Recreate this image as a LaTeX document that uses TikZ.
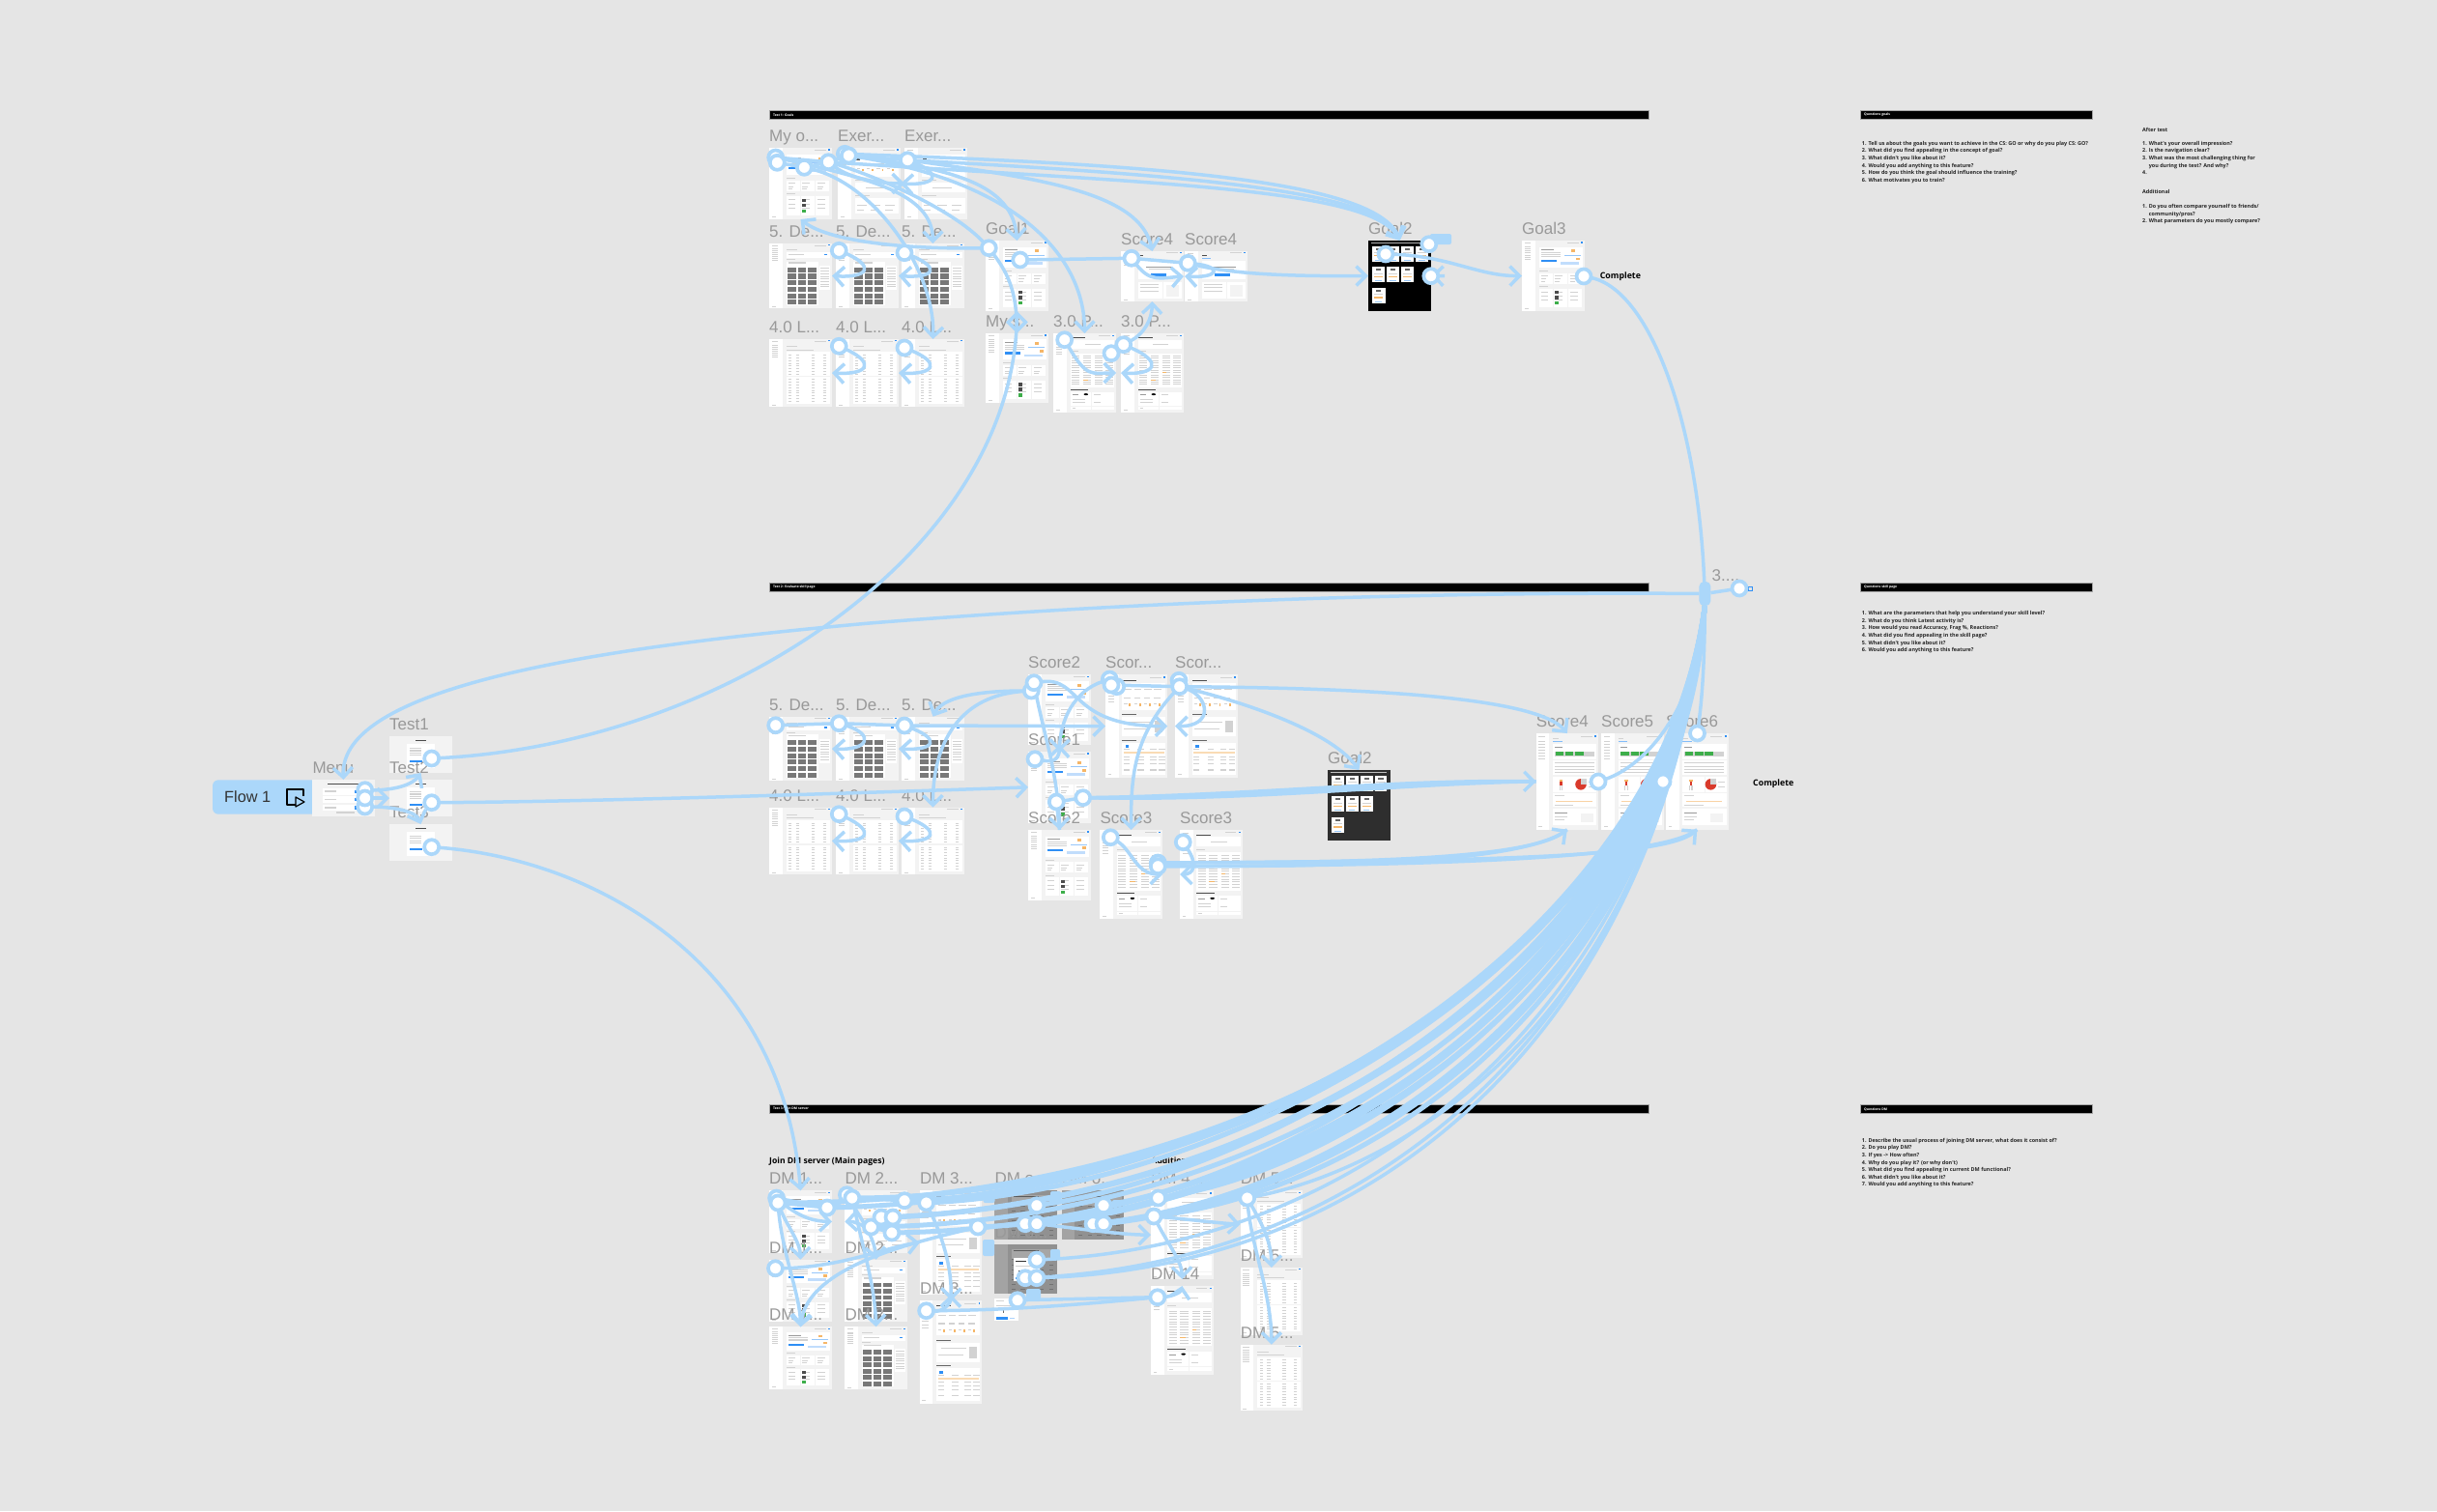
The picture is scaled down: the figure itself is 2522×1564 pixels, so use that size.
\documentclass[tikz,border=0pt]{standalone}
\usepackage{fontspec}
\setmainfont{Liberation Sans}
\newfontfamily\qf{Open Sans}
\usetikzlibrary{arrows.meta}
\pgfdeclarelayer{frames}\pgfdeclarelayer{links}
\pgfsetlayers{frames,links,main}
\definecolor{lc}{HTML}{ABD7FA}
\definecolor{bgc}{HTML}{E5E5E5}
\definecolor{scr}{HTML}{F3F3F3}
\definecolor{tx}{HTML}{D2D2D2}
\definecolor{acc}{HTML}{2F8FF5}
\definecolor{org}{HTML}{F5B668}
\definecolor{lb}{HTML}{999999}
\definecolor{gryb}{HTML}{787878}
\definecolor{grn}{HTML}{3DAE4A}
\definecolor{rd}{HTML}{D93A2B}
\tikzset{
 frm/.style={inner sep=0,outer sep=0,draw=none},
 lab/.style={anchor=base west,inner sep=0,text=lb,font=\fontsize{17}{17}\selectfont},
 dot/.style={circle,draw=lc,fill=white,line width=3.7pt,minimum size=15pt,inner sep=0,outer sep=0},
 link/.style={draw=lc,line width=3.5pt},
 fan/.style={draw=lc,line width=5pt},
 arr/.style={link,-{Straight Barb[length=10pt,width=20pt,line width=3.5pt]}},
 hot/.style={fill=lc,rounded corners=2pt,inner sep=0,outer sep=0},
 bar/.style={fill=black,draw=gray!70,line width=.5pt,inner sep=0,outer sep=0,anchor=north west},
 bartxt/.style={anchor=west,inner sep=0,text=white,font=\qf\bfseries\fontsize{3.4}{4}\selectfont},
 qtxt/.style={anchor=north west,inner sep=0,align=left,text=black!85,font=\qf\bfseries\fontsize{5.45}{7.6}\selectfont},
 cmp/.style={anchor=west,inner sep=0,text=black,font=\qf\bfseries\fontsize{8.8}{10}\selectfont},
 head/.style={anchor=west,inner sep=0,text=black,font=\qf\bfseries\fontsize{8.6}{10}\selectfont},
}
\newcommand\rct[5]{\fill[#1] (#2,#3) rectangle (#4,#5);}
\newcommand\qi[2]{\makebox[6.6pt][l]{#1}#2}
\newcommand\kbase{%
 \rct{scr}{0}{0}{1}{1}\rct{white}{0}{0}{.21}{1}%
 \foreach\yy in {.03,.08,.11,.14,.17,.2,.23,.26}{\rct{tx}{.04}{\yy}{.14}{\yy+.006}}%
 \rct{tx}{.04}{.965}{.1}{.975}%
 \rct{acc}{.94}{.02}{.97}{.035}\rct{tx}{.72}{.025}{.9}{.031}}
\newcommand\kdash{\kbase
 \rct{white}{.27}{.09}{.97}{.38}\rct{acc}{.31}{.27}{.56}{.30}%
 \foreach\yy in {.16,.19,.22}{\rct{tx}{.31}{\yy}{.62}{\yy+.008}}%
 \rct{lb}{.31}{.13}{.5}{.14}\rct{org}{.78}{.13}{.84}{.17}\rct{org}{.86}{.24}{.92}{.28}\rct{acc!50}{.68}{.2}{.94}{.21}\rct{acc!30}{.62}{.3}{.9}{.34}%
 \rct{tx}{.27}{.42}{.42}{.43}%
 \foreach\xx in {.27,.5,.74}{\rct{white}{\xx}{.46}{\xx+.22}{.61}\rct{tx}{\xx+.03}{.49}{\xx+.15}{.5}\rct{tx}{\xx+.03}{.54}{\xx+.12}{.55}\rct{tx}{\xx+.03}{.57}{\xx+.1}{.58}}%
 \rct{tx}{.27}{.64}{.42}{.65}%
 \foreach\xx in {.27,.5,.74}{\rct{white}{\xx}{.68}{\xx+.22}{.94}\rct{tx}{\xx+.03}{.72}{\xx+.15}{.73}\rct{tx}{\xx+.03}{.78}{\xx+.15}{.79}\rct{tx}{\xx+.03}{.84}{\xx+.15}{.85}}%
 \rct{black!70}{.53}{.71}{.59}{.76}\rct{black!70}{.53}{.78}{.59}{.83}\rct{grn}{.53}{.86}{.59}{.91}}
\newcommand\kexer{\kbase
 \rct{white}{.27}{.1}{.97}{.4}\rct{black!70}{.29}{.13}{.35}{.17}%
 \foreach\xx in {.3,.46,.62,.78}{\rct{tx}{\xx}{.22}{\xx+.12}{.23}\rct{org}{\xx+.08}{.3}{\xx+.11}{.33}\rct{tx}{\xx}{.29}{\xx+.05}{.3}}%
 \rct{tx}{.27}{.45}{.5}{.46}\rct{white}{.27}{.49}{.97}{.62}\rct{tx}{.45}{.55}{.75}{.56}%
 \rct{tx}{.27}{.66}{.5}{.67}\rct{white}{.27}{.7}{.97}{.92}%
 \foreach\xx in {.3,.52,.75}{\rct{tx}{\xx}{.8}{\xx+.16}{.81}\rct{tx}{\xx}{.86}{\xx+.12}{.87}}}
\newcommand\kgrid{\kbase
 \rct{tx}{.27}{.09}{.45}{.1}\rct{white}{.27}{.13}{.97}{.22}\rct{tx}{.3}{.16}{.55}{.17}\rct{acc}{.87}{.16}{.93}{.18}%
 \rct{tx}{.27}{.24}{.42}{.25}\rct{white}{.27}{.28}{.78}{.95}\rct{tx}{.3}{.29}{.58}{.31}%
 \foreach\yy in {.37,.47,.57,.67,.77,.87}{\foreach\xx in {.29,.455,.62}{\rct{gryb}{\xx}{\yy}{\xx+.135}{\yy+.075}}}%
 \rct{white}{.8}{.35}{.97}{.72}\foreach\yy in {.38,.42,.46,.5,.54,.58,.62,.66}{\rct{tx}{.82}{\yy}{.95}{\yy+.01}}}
\newcommand\ktable{\kbase
 \rct{tx}{.27}{.1}{.45}{.11}\rct{tx}{.27}{.15}{.7}{.155}%
 \rct{white}{.27}{.19}{.97}{.95}%
 \foreach\yy in {.23,.27,.31,.35,.39,.43,.47,.51,.59,.63,.67,.71,.75,.79,.83,.87,.91}{\foreach\xx in {.31,.43,.68,.86}{\rct{tx}{\xx}{\yy}{\xx+.05}{\yy+.01}}}%
 \rct{scr}{.27}{.54}{.97}{.56}}
\newcommand\kskill{\kbase
 \rct{black!70}{.27}{.05}{.5}{.06}\rct{white}{.27}{.08}{.97}{.19}\rct{tx}{.5}{.13}{.75}{.14}%
 \rct{tx}{.27}{.22}{.4}{.23}\rct{white}{.27}{.25}{.97}{.68}%
 \foreach\yy in {.28,.31,.34,.37,.40,.43,.46,.49,.52,.55,.58,.61,.64}{\foreach\xx in {.29,.47,.66,.83}{\rct{tx}{\xx}{\yy}{\xx+.13}{\yy+.006}}}%
 \rct{org}{.47}{.58}{.56}{.586}\rct{org}{.66}{.49}{.72}{.496}%
 \rct{black!70}{.27}{.71}{.55}{.72}\rct{white}{.27}{.74}{.97}{.96}\rct{scr}{.6}{.74}{.62}{.96}\rct{scr}{.27}{.91}{.97}{.92}%
 \fill[black] (.52,.77) circle[x radius=.035,y radius=.012];\rct{lb}{.3}{.77}{.4}{.78}\rct{tx}{.3}{.83}{.5}{.84}\rct{tx}{.3}{.86}{.5}{.87}\rct{tx}{.3}{.94}{.36}{.95}\rct{tx}{.65}{.77}{.75}{.78}\rct{tx}{.65}{.86}{.75}{.87}}
\newcommand\kscor{\kbase
 \rct{black!70}{.27}{.05}{.5}{.06}\rct{white}{.27}{.08}{.97}{.34}%
 \foreach\xx in {.3,.46,.62,.78}{\rct{tx}{\xx}{.14}{\xx+.12}{.145}\rct{org}{\xx+.08}{.28}{\xx+.11}{.31}\rct{tx}{\xx}{.28}{\xx+.05}{.29}\rct{tx}{\xx}{.22}{\xx+.1}{.23}}%
 \rct{black!60}{.27}{.38}{.5}{.39}\rct{white}{.27}{.41}{.97}{.6}\rct{tx}{.35}{.46}{.75}{.47}\rct{tx}{.3}{.52}{.7}{.525}\rct{tx}{.8}{.45}{.92}{.56}%
 \rct{black!60}{.27}{.63}{.5}{.64}\rct{white}{.27}{.66}{.97}{.97}\rct{acc}{.32}{.68}{.38}{.71}%
 \rct{org!50}{.29}{.75}{.95}{.77}\foreach\yy in {.72,.79,.82,.86,.92}{\foreach\xx in {.29,.52,.72,.86}{\rct{tx}{\xx}{\yy}{\xx+.1}{\yy+.01}}}}
\newcommand\khero{\kbase
 \rct{black!70}{.27}{.08}{.36}{.1}\rct{acc!60}{.27}{.14}{.42}{.16}\rct{white}{.27}{.2}{.97}{.55}\rct{lb}{.4}{.3}{.82}{.32}\rct{tx}{.45}{.35}{.78}{.36}\rct{acc}{.47}{.45}{.72}{.5}%
 \rct{white}{.27}{.62}{.66}{.95}\rct{white}{.68}{.62}{.97}{.95}\rct{scr}{.72}{.68}{.92}{.9}%
 \foreach\yy in {.66,.72,.78}{\rct{tx}{.3}{\yy}{.6}{\yy+.012}}}
\newcommand\kpie{\kbase
 \rct{tx}{.27}{.05}{.36}{.06}\rct{acc!60}{.27}{.085}{.42}{.095}\rct{white}{.27}{.11}{.97}{.27}\rct{lb}{.3}{.14}{.42}{.15}%
 \rct{tx}{.3}{.19}{.93}{.24}\rct{grn}{.31}{.195}{.44}{.235}\rct{grn}{.47}{.195}{.6}{.235}\rct{grn}{.62}{.195}{.76}{.235}%
 \rct{white}{.27}{.28}{.97}{.43}\foreach\yy in {.3,.34,.37,.4}{\rct{tx}{.3}{\yy}{.93}{\yy+.006}}%
 \rct{white}{.27}{.45}{.62}{.61}\rct{white}{.63}{.45}{.97}{.61}%
 \rct{org}{.37}{.48}{.43}{.5}\rct{rd}{.38}{.5}{.42}{.54}\rct{tx}{.37}{.54}{.39}{.59}\rct{tx}{.41}{.54}{.43}{.59}%
 \fill[rd] (.72,.53) circle[x radius=.09,y radius=.058];\fill[tx] (.72,.53) -- (.72,.472) -- (.81,.472) -- (.81,.53) -- cycle;\rct{tx}{.84}{.5}{.94}{.51}\rct{tx}{.84}{.55}{.94}{.56}%
 \rct{white}{.27}{.62}{.97}{.76}\rct{tx}{.3}{.64}{.45}{.65}\rct{org!60}{.32}{.7}{.9}{.705}\rct{tx}{.3}{.74}{.6}{.745}%
 \rct{white}{.27}{.78}{.97}{.95}\rct{lb}{.3}{.82}{.5}{.825}\rct{tx}{.3}{.86}{.5}{.87}\rct{tx}{.3}{.89}{.45}{.9}\rct{scr}{.72}{.83}{.92}{.92}}
\newcommand\kboard[1]{\rct{#1}{0}{0}{1}{1}\rct{white!70!#1}{.05}{.03}{.95}{.04}%
 \foreach\xx in {.06,.29,.52,.75}{\rct{white}{\xx}{.08}{\xx+.2}{.3}\rct{black!60}{\xx+.06}{.11}{\xx+.14}{.14}\rct{tx}{\xx+.03}{.17}{\xx+.17}{.18}\rct{org}{\xx+.03}{.21}{\xx+.17}{.225}\rct{acc!50}{\xx+.05}{.27}{\xx+.15}{.28}}%
 \foreach\xx in {.06,.29,.52}{\rct{white}{\xx}{.37}{\xx+.2}{.59}\rct{black!60}{\xx+.06}{.4}{\xx+.14}{.43}\rct{tx}{\xx+.03}{.46}{\xx+.17}{.47}\rct{org}{\xx+.03}{.5}{\xx+.17}{.515}\rct{acc!50}{\xx+.05}{.56}{\xx+.15}{.57}}%
 \rct{white}{.06}{.67}{.27}{.89}\rct{black!60}{.12}{.7}{.2}{.73}\rct{tx}{.09}{.76}{.23}{.77}\rct{org}{.09}{.8}{.23}{.815}\rct{acc!50}{.11}{.86}{.21}{.87}}
\newcommand\kdark{\rct{black!43}{0}{0}{1}{1}\rct{black!36}{0}{0}{.21}{1}%
 \foreach\yy in {.1,.2,.3,.4,.5,.6,.7,.8,.9}{\foreach\xx in {.27,.42,.57,.72,.87}{\rct{black!55}{\xx}{\yy}{\xx+.07}{\yy+.02}}}\rct{black!35}{.27}{.09}{.97}{.3}\rct{black!65}{.3}{.12}{.7}{.14}}
\newcommand\kmodal{\kdark\rct{white}{.3}{.28}{.72}{.75}\rct{black!80}{.33}{.33}{.5}{.36}\rct{tx}{.33}{.42}{.65}{.44}\rct{black!70}{.38}{.52}{.42}{.62}\rct{acc}{.33}{.67}{.42}{.7}}
\newcommand\kmenu{\rct{scr}{0}{0}{1}{1}\rct{black!70}{.25}{.1}{.78}{.13}%
 \foreach\yy in {.24,.46,.68}{\rct{white}{.16}{\yy}{.88}{\yy+.17}\rct{tx}{.2}{\yy+.06}{.38}{\yy+.1}\rct{acc}{.68}{\yy+.04}{.72}{\yy+.13}}\rct{tx}{.38}{.88}{.68}{.91}}
\newcommand\ktest{\rct{scr}{0}{0}{1}{1}\rct{black!70}{.42}{.1}{.58}{.13}\rct{white}{.28}{.2}{.72}{.88}%
 \foreach\yy in {.32,.38,.44,.5}{\rct{tx}{.33}{\yy}{.5}{\yy+.03}}\rct{acc}{.33}{.65}{.53}{.71}}
\newcommand\kform{\rct{white}{0}{0}{1}{1}\rct{tx}{.05}{.1}{.4}{.14}\rct{tx}{.05}{.3}{.7}{.33}\rct{black!60}{.35}{.5}{.4}{.65}\rct{acc}{.08}{.85}{.55}{.97}\rct{acc!40}{.62}{.88}{.85}{.93}}
\newcommand\frm[7]{%
 \pgfmathsetmacro\fcx{(#2+#4)/2}\pgfmathsetmacro\fcy{(#3+#5)/2}\pgfmathsetmacro\fw{#4-#2}\pgfmathsetmacro\fh{#5-#3}%
 \node[frm,minimum width=\fw pt,minimum height=\fh pt] (#1) at (\fcx,\fcy) {};%
 \begin{scope}[shift={(#2,#3)},x=\fw pt,y=-\fh pt]#7\end{scope}%
 \ifx&#6&\else\node[lab] (#1-l) at (#2,#3-6.5) {#6};\fi}
\newcommand\dt[3]{\node[dot] (#1) at (#2,#3) {};}
\begin{document}
\begin{tikzpicture}[x=1pt,y=-1pt]
\useasboundingbox (0,0) rectangle (2522,1564);
\begin{pgfonlayer}{frames}
\fill[bgc] (0,0) rectangle (2522,1564);
% section bars
\node[bar,minimum width=910pt,minimum height=9pt] (b1) at (796,114.5) {};
\node[bar,minimum width=910pt,minimum height=9pt] (b2) at (796,603.5) {};
\node[bar,minimum width=910pt,minimum height=9pt] (b3) at (796,1143.5) {};
\node[bar,minimum width=240pt,minimum height=9pt] (q1b) at (1925,114.5) {};
\node[bar,minimum width=240pt,minimum height=9pt] (q2b) at (1925,603.5) {};
\node[bar,minimum width=240pt,minimum height=9pt] (q3b) at (1925,1143.5) {};
\node[bartxt] (b1t) at (800,119) {Test 1: Goals};
\node[bartxt] (b2t) at (800,608) {Test 2: Evaluate skill page};
\node[bartxt] (b3t) at (800,1148) {Test 3: Join DM server};
\node[bartxt] (q1t) at (1929,119) {Questions goals};
\node[bartxt] (q2t) at (1929,608) {Questions skill page};
\node[bartxt] (q3t) at (1929,1148) {Questions DM};
% question text
\node[qtxt] (q1) at (1926.7,146) {\qi{1.}{Tell us about the goals you want to achieve in the CS: GO or why do you play CS: GO?}\\\qi{2.}{What did you find appealing in the concept of goal?}\\\qi{3.}{What didn't you like about it?}\\\qi{4.}{Would you add anything to this feature?}\\\qi{5.}{How do you think the goal should influence the training?}\\\qi{6.}{What motivates you to train?}};
\node[qtxt] (q1c) at (2217,146) {\qi{1.}{What's your overall impression?}\\\qi{2.}{Is the navigation clear?}\\\qi{3.}{What was the most challenging thing for}\\\qi{}{you during the test? And why?}\\\qi{4.}{}};
\node[qtxt] (q1d) at (2217,211.2) {\qi{1.}{Do you often compare yourself to friends/}\\\qi{}{community/pros?}\\\qi{2.}{What parameters do you mostly compare?}};
\node[qtxt,anchor=west] (q1e) at (2217,134.6) {After test};
\node[qtxt,anchor=west] (q1f) at (2217,198) {Additional};
\node[qtxt] (q2) at (1926.7,632.4) {\qi{1.}{What are the parameters that help you understand your skill level?}\\\qi{2.}{What do you think Latest activity is?}\\\qi{3.}{How would you read Accuracy, Frag \%, Reactions?}\\\qi{4.}{What did you find appealing in the skill page?}\\\qi{5.}{What didn't you like about it?}\\\qi{6.}{Would you add anything to this feature?}};
\node[qtxt] (q3) at (1926.7,1178) {\qi{1.}{Describe the usual process of joining DM server, what does it consist of?}\\\qi{2.}{Do you play DM?}\\\qi{3.}{If yes -> How often?}\\\qi{4.}{Why do you play it? (or why don't)}\\\qi{5.}{What did you find appealing in current DM functional?}\\\qi{6.}{What didn't you like about it?}\\\qi{7.}{Would you add anything to this feature?}};
\node[cmp] (c1) at (1655.6,286) {Complete};
\node[cmp] (c2) at (1814,811) {Complete};
\node[head] (h1) at (796,1202) {Join DM server (Main pages)};
\node[head] (h2) at (1191.4,1201.7) {Additional};
% flow button
\fill[lc,rounded corners=6pt] (220,807.3) rectangle (330,842.7);
\node[anchor=west,inner sep=0,text=black!80,font=\fontsize{16.3}{17}\selectfont] (flow) at (232,825) {Flow 1};
\draw[black,line width=1.2pt,line join=round] (306,833) -- (297,833) -- (297,817) -- (314,817) -- (314,824);
\draw[black,line width=1.2pt,line join=round] (306,825) -- (315,830) -- (306,835) -- cycle;
% entry frames
\frm{menu}{323.3}{807}{387.7}{845}{Menu}{\kmenu}
\frm{te1}{403}{762}{468}{800}{Test1}{\ktest}
\frm{te2}{403}{807}{468}{845}{Test2}{\ktest}
\frm{te3}{403}{853}{468}{890.7}{Test3}{\ktest}
% row 1 frames
\frm{ao}{796}{153}{861}{227}{My o...}{\kdash}
\frm{ae1}{867}{153}{932}{227}{Exer...}{\kexer}
\frm{ae2}{936}{153}{1001}{227}{Exer...}{\kexer}
\frm{ad1}{796}{252}{861}{319}{5. De...}{\kgrid}
\frm{ad2}{865}{252}{930}{319}{5. De...}{\kgrid}
\frm{ad3}{933}{252}{998}{319}{5. De...}{\kgrid}
\frm{at1}{796}{351}{861}{421}{4.0 L...}{\ktable}
\frm{at2}{865}{351}{930}{421}{4.0 L...}{\ktable}
\frm{at3}{933}{351}{998}{421}{4.0 L...}{\ktable}
\frm{ag1}{1020}{249}{1085}{322}{Goal1}{\kdash}
\frm{ams}{1020}{345}{1085}{417}{My s...}{\kdash}
\frm{ap1}{1090}{345}{1155}{427}{3.0 P...}{\kskill}
\frm{ap2}{1160}{345}{1225}{427}{3.0 P...}{\kskill}
\frm{as1}{1160}{260}{1225}{312}{Score4}{\khero}
\frm{as2}{1226}{260}{1291}{312}{Score4}{\khero}
\frm{ag2}{1416}{249}{1481}{322}{Goal2}{\kboard{black}}
\frm{ag3}{1575}{249}{1640}{322}{Goal3}{\kdash}
% row 2 frames
\frm{bd1}{796}{741.7}{861}{808.3}{5. De...}{\kgrid}
\frm{bd2}{865}{741.7}{930}{808.3}{5. De...}{\kgrid}
\frm{bd3}{933}{741.7}{998}{808.3}{5. De...}{\kgrid}
\frm{bt1}{796}{835.7}{861}{905}{4.0 L...}{\ktable}
\frm{bt2}{865}{835.7}{930}{905}{4.0 L...}{\ktable}
\frm{bt3}{933}{835.7}{998}{905}{4.0 L...}{\ktable}
\frm{bs2}{1064}{698.3}{1129}{771}{Score2}{\kdash}
\frm{bs1}{1064}{778}{1129}{851.7}{Score1}{\kdash}
\frm{bs2b}{1064}{859}{1129}{931.7}{Score2}{\kdash}
\frm{bc1}{1144}{698.3}{1208.3}{805}{Scor...}{\kscor}
\frm{bc2}{1216}{698.3}{1281}{805}{Scor...}{\kscor}
\frm{bs3}{1138.3}{859}{1203}{951}{Score3}{\kskill}
\frm{bs3b}{1221}{859}{1285.7}{951}{Score3}{\kskill}
\frm{bg2}{1374}{797}{1438.7}{870}{Goal2}{\kboard{black!82}}
\frm{bp4}{1589.7}{759}{1654}{858.7}{Score4}{\kpie}
\frm{bp5}{1657}{759}{1722}{858.7}{Score5}{\kpie}
\frm{bp6}{1724}{759}{1788.5}{858.7}{Score6}{\kpie}
% row 3 frames
\frm{c1a}{796}{1232.3}{861}{1296.7}{DM 1...}{\kdash}
\frm{c1b}{796}{1303.7}{861}{1368.3}{DM 1...}{\kdash}
\frm{c1c}{796}{1373.3}{861}{1437.7}{DM 1...}{\kdash}
\frm{c2a}{874.3}{1232.3}{939}{1296.7}{DM 2...}{\kexer}
\frm{c2b}{874.3}{1303.7}{939}{1368.3}{DM 2...}{\kgrid}
\frm{c2c}{874.3}{1373.3}{939}{1438.3}{DM 2...}{\kgrid}
\frm{c3a}{951.8}{1232.3}{1016.4}{1340}{DM 3...}{\kscor}
\frm{c3b}{951.8}{1346}{1016.4}{1452.7}{DM 3...}{\kscor}
\frm{co1}{1029.3}{1232.3}{1094}{1283}{DM o...}{\kdark}
\frm{co2}{1098.6}{1232.3}{1162.9}{1283}{DM o...}{\kdark}
\frm{co3}{1029.3}{1288}{1094}{1339.3}{DM o...}{\kmodal}
\frm{cf}{1029.3}{1344}{1054}{1366.7}{}{\kform}
\frm{cxa}{1191}{1232.3}{1255.7}{1324}{DM 4...}{\kskill}
\frm{cxb}{1191}{1331}{1255.7}{1422.7}{DM 14}{\kskill}
\frm{c5a}{1283.6}{1232.3}{1348}{1302}{DM 5...}{\ktable}
\frm{c5b}{1283.6}{1312}{1348}{1381.7}{DM 5...}{\ktable}
\frm{c5c}{1283.6}{1391.7}{1348}{1460}{DM 5...}{\ktable}
\node[lab] (l3) at (1771.5,601) {3....};
\end{pgfonlayer}
% dots (on top)
\dt{me1}{377.7}{817.7}\dt{me3}{377.7}{835}\dt{me2}{377.7}{826}
\dt{t1d}{446.7}{785}\dt{t2d}{446.7}{830.7}\dt{t3d}{446.7}{876.7}
\dt{ra}{802.7}{163}\dt{rb}{804.3}{168.3}\dt{rc}{832.3}{173.3}\dt{rd}{857.3}{167.7}\dt{re}{874.3}{159.3}\dt{rf}{878.3}{161}\dt{rg}{939.3}{165.7}
\dt{rh}{868.3}{259.3}\dt{ri}{936}{261.7}\dt{rj}{1023.3}{256.7}\dt{rk}{1055.7}{269}
\dt{rl}{868.3}{358.3}\dt{rm}{936}{360}
\dt{rn}{1101.7}{351.7}\dt{ro}{1150}{365.7}\dt{rp}{1162.7}{356.7}
\dt{rq}{1171}{267.3}\dt{rr}{1229.3}{272.3}
\dt{rs}{1434}{263}\dt{rt}{1478.8}{252.7}\dt{ru}{1480.8}{285.7}\dt{rv}{1639}{286}
\dt{sa}{802.7}{750.7}\dt{sb}{868.3}{748.7}\dt{sc}{936}{751}
\dt{sd}{868.3}{842.7}\dt{se}{936}{845}
\dt{sg}{1067.3}{715}\dt{sf}{1070}{706.7}
\dt{sh}{1148.3}{703}\dt{si}{1155.7}{710.7}\dt{sj}{1150}{709}
\dt{sk}{1220}{704.3}\dt{sl}{1220.7}{710.7}
\dt{sm}{1071}{785.7}\dt{sn}{1093.3}{830}\dt{so}{1120.7}{825.7}
\dt{sp}{1149.3}{866.7}\dt{sq}{1198.3}{893}\dt{sr}{1198.3}{896.7}\dt{ss}{1224.3}{871.7}
\dt{st}{1654}{809}\dt{su}{1721}{809}\dt{sv}{1756.5}{759}
\dt{ua}{803.6}{1240}\dt{ub}{805}{1245}\dt{uc}{856}{1250}\dt{ud}{802.5}{1312.7}
\dt{ue}{876.4}{1236.7}\dt{uf}{881.8}{1240}\dt{ug}{936}{1242.7}\dt{uh}{901.4}{1270}\dt{ui}{912}{1260}\dt{uj}{924}{1260}\dt{uk}{922.9}{1276}
\dt{ul}{958.6}{1245}\dt{um}{1012}{1270}\dt{un}{958.6}{1356.7}
\dt{uo}{1072.9}{1247.7}\dt{up}{1061}{1266.7}\dt{uq}{1072.9}{1266.7}\dt{ur}{1072.9}{1304}\dt{us}{1061}{1322.7}\dt{ut}{1072.9}{1322.7}\dt{uu}{1053}{1345.7}
\dt{uv}{1142}{1247.7}\dt{uw}{1131}{1266.7}\dt{ux}{1142}{1266.7}
\dt{uy}{1198.6}{1240}\dt{uz}{1194}{1259}\dt{vb}{1197.9}{1342.7}\dt{vc}{1290.7}{1240}
\node[dot] (top) at (1800,609) {};
\begin{pgfonlayer}{links}
% hotspot blocks
\node[hot,minimum width=22pt,minimum height=11pt] (h1a) at (1491,247.5) {};
\node[hot,minimum width=12pt,minimum height=25pt,rounded corners=5pt] (pill) at (1764.4,614.5) {};
\node[hot,minimum width=12pt,minimum height=12pt] (h2a) at (1023.5,1239) {};
\node[hot,minimum width=12pt,minimum height=17pt] (h2b) at (1023,1291.5) {};
\node[hot,minimum width=10pt,minimum height=11pt] (h2c) at (1092,1298.5) {};
\node[hot,minimum width=15pt,minimum height=11pt] (h2d) at (1069.5,1339.5) {};
\node[hot,minimum width=11pt,minimum height=12pt] (h2e) at (1092.5,1239) {};
\node[hot,minimum width=15pt,minimum height=5pt] (h2f) at (1158.5,1244.5) {};
\draw[draw=acc,line width=.7pt] (1809,607) rectangle (1813,611) coordinate (tiny);
\coordinate (k1) at (1495,285.7);
% entry
\draw[arr] (me1) .. controls (400,818) and (425,815) .. (te1.south);
\draw[arr] (me2) -- (te2.west);
\draw[arr] (me3) .. controls (400,835) and (430,838) .. (te3.north);
\draw[arr] (top) -- (pill) .. controls (1450,612) and (1150,625) .. (900,645) .. controls (620,670) and (350,710) .. (menu.north);
\draw[arr] (t1d) .. controls (750,770) and (1050,570) .. (ag1.south);
\draw[arr] (t2d) .. controls (600,830) and (850,822) .. (bs1.west);
\draw[arr] (t3d) .. controls (620,890) and (810,1000) .. (c1a.north);
% row 1
\draw[link] (ra) -- (rd);\draw[link] (rb) -- (rc) -- (rd) -- (rf) -- (rg);
\draw[arr] (rc) .. controls (905,190) and (968,280) .. (at3.north);
\draw[arr] (ra) .. controls (900,185) and (965,200) .. (ad3.north);
\draw[link] (rd) .. controls (900,180) and (985,215) .. (rj);
\draw[arr] (rf) .. controls (985,175) and (1048,190) .. (ag1.north);
\draw[arr] (rf) .. controls (1060,190) and (1122,270) .. (ap1.north);
\draw[arr] (rg) .. controls (1080,185) and (1180,200) .. (as1.north);
\draw[arr] (re) .. controls (1180,170) and (1425,185) .. (ag2.north);
\draw[arr] (rg) .. controls (1200,180) and (1430,195) .. (ag2.north);
\draw[arr] (rd) .. controls (1200,190) and (1420,195) .. (ag2.north);
\draw[arr] (rg) .. controls (975,180) and (970,192) .. (ae1.east);
\draw[arr] (rd) .. controls (880,185) and (910,190) .. (ae2.west);
\draw[arr] (rj) .. controls (950,258) and (860,252) .. (ao.south);
\draw[arr] (rj) .. controls (1045,285) and (1052,305) .. (ams.north);
\draw[arr] (rh) .. controls (905,275) and (900,288) .. (ad1.east);
\draw[arr] (ri) .. controls (973,277) and (968,288) .. (ad2.east);
\draw[arr] (rl) .. controls (905,375) and (900,388) .. (at1.east);
\draw[arr] (rm) .. controls (973,375) and (968,388) .. (at2.east);
\draw[link] (rk) -- (rq) -- (rr);
\draw[arr] (rq) .. controls (1190,292) and (1200,288) .. (as1.east);
\draw[arr] (rr) .. controls (1265,276) and (1262,288) .. (as2.west);
\draw[arr] (rr) .. controls (1280,285) and (1350,286) .. (ag2.west);
\draw[arr] (rn) .. controls (1125,392) and (1130,386) .. (ap1.east);
\draw[arr] (rp) .. controls (1205,375) and (1195,388) .. (ap2.west);
\draw[arr] (rp) .. controls (1185,345) and (1192,330) .. (as1.south);
\draw[arr] (rs) .. controls (1500,265) and (1530,286) .. (ag3.west);
\draw[arr] (k1) -- (ag2.east);
\draw[link] (rv) .. controls (1710,300) and (1762,450) .. (pill.south);
% row 2
\draw[link] (sa) -- (sb) -- (sc);
\draw[arr] (sc) -- (bc1.west);
\draw[arr] (sb) .. controls (905,760) and (900,777) .. (bd1.east);
\draw[arr] (sc) .. controls (973,765) and (968,777) .. (bd2.east);
\draw[arr] (sd) .. controls (905,860) and (900,872) .. (bt1.east);
\draw[arr] (se) .. controls (973,860) and (968,872) .. (bt2.east);
\draw[arr] (sg) .. controls (1010,715) and (975,722) .. (bd3.north);
\draw[arr] (sg) .. controls (985,720) and (965,780) .. (bt3.north);
\draw[arr] (sf) .. controls (1080,760) and (1095,800) .. (bs2b.north);
\draw[arr] (sf) .. controls (1120,700) and (1105,752) .. (bc1.east);
\draw[arr] (sh) .. controls (1112,715) and (1097,745) .. (bs1.north);
\draw[arr] (sm) .. controls (1085,788) and (1096,790) .. (bs2.south);
\draw[link] (sj) -- (sl);
\draw[arr] (sl) .. controls (1250,720) and (1258,752) .. (bc2.west);
\draw[arr] (sl) .. controls (1175,760) and (1170,800) .. (bs3.north);
\draw[arr] (sl) .. controls (1400,712) and (1590,720) .. (bp4.north);
\draw[arr] (sl) .. controls (1300,730) and (1380,760) .. (bg2.north);
\draw[link] (sn) -- (so);
\draw[link] (sn) -- (bs2b.north);
\draw[arr] (so) .. controls (1300,826) and (1450,808) .. (bp4.west);
\draw[link] (so) .. controls (1300,823) and (1450,806) .. (bp4.west);
\draw[link] (so) .. controls (1300,829) and (1450,811) .. (bp4.west);
\draw[arr] (sq) .. controls (1400,893) and (1580,890) .. (bp4.south);
\draw[link] (sr) .. controls (1400,897) and (1580,892) .. (bp4.south);
\draw[arr] (sq) .. controls (1500,891) and (1720,890) .. (bp6.south);
\draw[link] (sr) .. controls (1500,896) and (1720,888) .. (bp6.south);
\draw[arr] (sp) .. controls (1172,880) and (1175,905) .. (bs3.east);
\draw[arr] (ss) .. controls (1240,895) and (1235,905) .. (bs3b.west);
\draw[link] (st) .. controls (1710,790) and (1760,720) .. (pill.south);
\draw[link] (su) .. controls (1745,760) and (1764,680) .. (pill.south);
\draw[link] (sv) .. controls (1762,720) and (1764,680) .. (pill.south);
% row 3
\draw[link] (ua) -- (uc);\draw[link] (ub) -- (uc) -- (uf) -- (ug) -- (ul);
\draw[link] (ui) -- (uj);\draw[link] (uh) -- (uk);
\draw[arr] (ub) .. controls (815,1270) and (828,1285) .. (c1b.north);
\draw[arr] (ub) .. controls (810,1300) and (828,1340) .. (c1c.north);
\draw[arr] (ua) .. controls (830,1262) and (845,1264) .. (c1a.east);
\draw[arr] (uh) .. controls (890,1268) and (885,1264) .. (c2a.west);
\draw[arr] (ue) .. controls (890,1260) and (905,1280) .. (c2b.north);
\draw[arr] (uf) .. controls (895,1300) and (905,1330) .. (c2c.north);
\draw[arr] (um) .. controls (950,1285) and (835,1310) .. (c1c.north);
\draw[arr] (ud) .. controls (870,1312) and (920,1290) .. (c3a.west);
\draw[arr] (ul) .. controls (975,1280) and (985,1310) .. (c3b.north);
\draw[arr] (un) .. controls (975,1358) and (984,1350) .. (c3a.south);
\draw[link] (un) .. controls (1050,1356) and (1120,1350) .. (vb);
\draw[arr] (uq) .. controls (1120,1272) and (1160,1278) .. (cxa.west);
\draw[arr] (uz) .. controls (1230,1262) and (1260,1266) .. (c5a.west);
\draw[arr] (uz) .. controls (1210,1290) and (1223,1305) .. (cxa.south);
\draw[arr] (vb) .. controls (1212,1342) and (1222,1338) .. (cxb.north);
\draw[arr] (vc) .. controls (1305,1265) and (1316,1285) .. (c5b.north);
\draw[arr] (vc) .. controls (1295,1290) and (1316,1340) .. (c5c.north);
% the fan into the junction
\foreach \d/\ax/\ay/\bx/\by in {
 ul/1280/1228/1712/1000,
 ug/1250/1232/1712/1002,
 uf/1260/1238/1713/1004,
 uo/1300/1215/1713/1006,
 uc/1270/1240/1714/1008,
 ub/1270/1244/1714/1010,
 uv/1330/1215/1715/1012,
 ui/1300/1244/1715/1014,
 uj/1310/1240/1716/1016,
 uy/1390/1210/1716/1018,
 up/1340/1242/1717/1020,
 uq/1350/1240/1717/1022,
 uh/1320/1262/1718/1024,
 uk/1340/1268/1718/1026,
 um/1370/1254/1718/1028,
 uw/1390/1238/1719/1030,
 ux/1400/1238/1719/1032,
 uz/1420/1228/1719/1034}{
 \draw[fan] (\d) .. controls (\ax,\ay) and (\bx,\by) .. (pill.south);
}
\foreach \d/\ax/\ay/\bx/\by in {
 vc/1470/1205/1719/1036,
 ur/1420/1288/1720/1037,
 us/1440/1306/1720/1038,
 ut/1450/1310/1720/1040}{
 \draw[link] (\d) .. controls (\ax,\ay) and (\bx,\by) .. (pill.south);
}
\draw[link] (uu) -- (vb);
\end{pgfonlayer}
\end{tikzpicture}
\end{document}
